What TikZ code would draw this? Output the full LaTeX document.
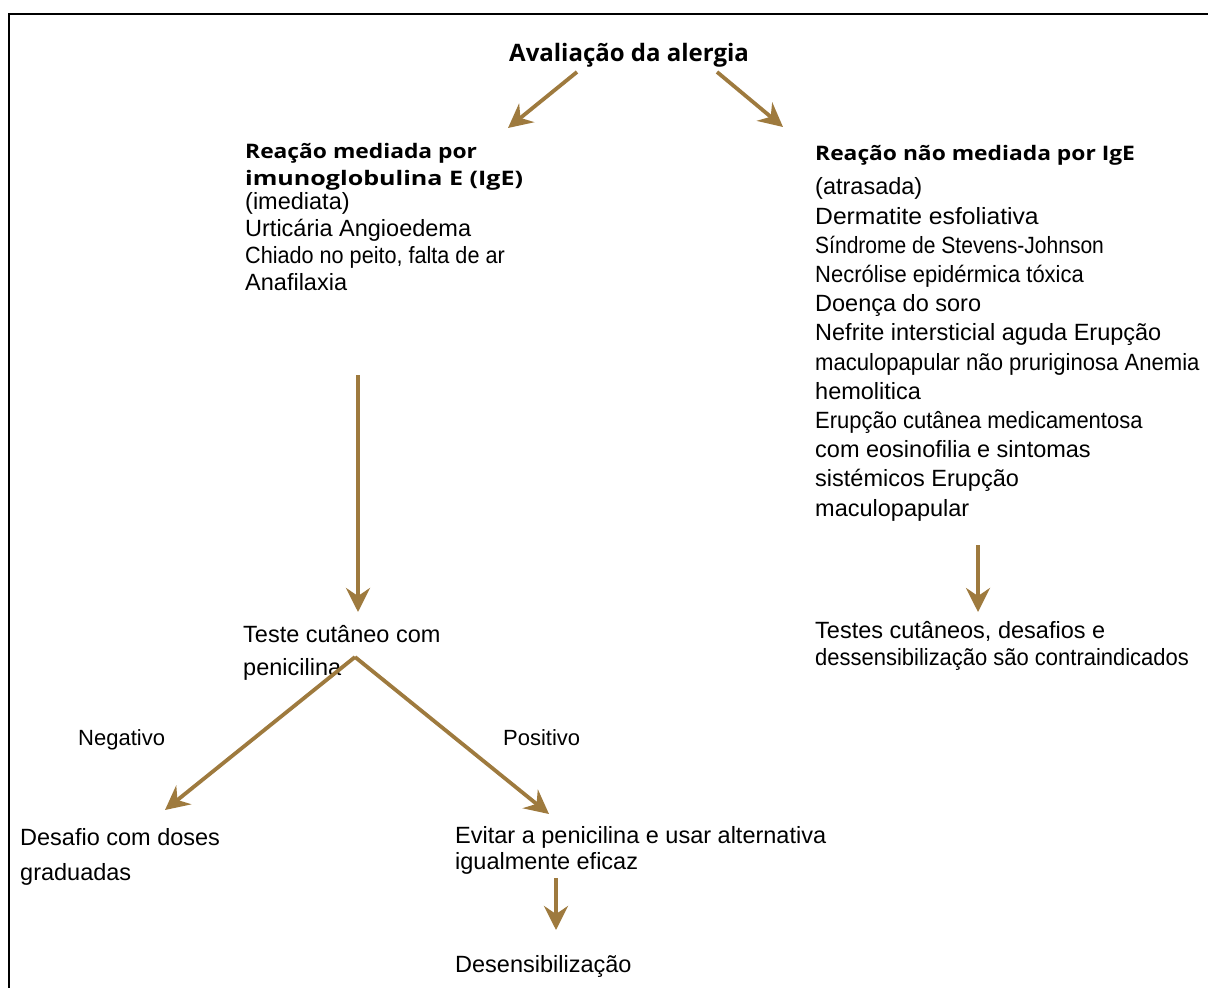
\documentclass[tikz,border=0pt]{standalone}
\usepackage{fontspec}
\setmainfont{Liberation Sans}
\newfontfamily\titlefont{Open Sans}
\newfontfamily\headfont{Open Sans}[FakeStretch=1.14]
\usepackage{xcolor}
\usepackage{graphicx}
\usetikzlibrary{positioning,arrows.meta}
\definecolor{arrowbrown}{RGB}{158,122,62}
% lines that the source sets a little wider or narrower
\newcommand{\narrowed}[2]{\scalebox{#1}[1]{#2}}

\begin{document}
\begin{tikzpicture}[
    x=1pt,y=-1pt,
    maintitle/.style={font=\titlefont\bfseries\fontsize{24}{30}\selectfont,inner sep=0,anchor=base west},
    heading/.style={font=\headfont\bfseries\fontsize{20}{27}\selectfont,align=left,inner sep=0,anchor=base west},
    txt/.style={font=\fontsize{23.5}{26.7}\selectfont,align=left,inner sep=0,anchor=base west},
    arrow/.style={draw=arrowbrown,line width=3.8pt,-{Stealth[length=24pt,width=24pt,inset=8pt]}}
]
\useasboundingbox (0,0) rectangle (1208,988);
\draw[line width=2.8pt] (9,988) -- (9,14) -- (1208,14);

% anchors sit on the last line of each text
\node[maintitle] (title) at (509,61) {Avaliação da alergia};

% IgE branch
\node[heading] (ige) at (245,185) {Reação mediada por\\\narrowed{1.1}{imunoglobulina E (IgE)}};
\node[txt] (igebody) at (245,290) {(imediata)\\Urticária Angioedema\\\narrowed{0.92}{Chiado no peito, falta de ar}\\Anafilaxia};

% non-IgE branch
\node[heading] (nonige) at (815,160) {Reação não mediada por IgE};
\node[txt,font=\fontsize{23.5}{29.2}\selectfont] (nonigebody) at (815,516) {(atrasada)\\\narrowed{1.05}{Dermatite esfoliativa}\\\narrowed{0.895}{Síndrome de Stevens-Johnson}\\\narrowed{0.935}{Necrólise epidérmica tóxica}\\Doença do soro\\Nefrite intersticial aguda Erupção\\\narrowed{0.94}{maculopapular não pruriginosa Anemia}\\hemolitica\\\narrowed{0.935}{Erupção cutânea medicamentosa}\\com eosinofilia e sintomas\\sistémicos Erupção\\maculopapular};

\node[txt,font=\fontsize{23.5}{33}\selectfont] (skintest) at (243,675) {Teste cutâneo com\\penicilina};
\node[txt,font=\fontsize{23.5}{27}\selectfont] (contra) at (815,665) {Testes cutâneos, desafios e\\\narrowed{0.935}{dessensibilização são contraindicados}};

\node[txt,font=\fontsize{22}{26}\selectfont] (negative) at (78,745) {Negativo};
\node[txt,font=\fontsize{22}{26}\selectfont] (positive) at (503,745) {Positivo};

\node[txt,font=\fontsize{23.5}{35}\selectfont] (challenge) at (20,880) {Desafio com doses\\graduadas};
\node[txt,font=\fontsize{23.5}{26}\selectfont] (avoid) at (455,869) {Evitar a penicilina e usar alternativa\\igualmente eficaz};
\node[txt] (desens) at (455,972) {Desensibilização};

% arrow ends
\coordinate (apex) at (355,657);
\coordinate (igein) at (508,128);
\coordinate (nonigein) at (783,127);
\coordinate (igeout) at (358,375);
\coordinate (nonigeout) at (978,545);
\coordinate (negin) at (165,810);
\coordinate (posin) at (549,814);
\coordinate (avoidout) at (556,878);

\draw[arrow] ([shift={(68,5)}]title.south west) -- (igein);
\draw[arrow] ([shift={(208,5)}]title.south west) -- (nonigein);
\draw[arrow] (igeout) -- (igeout |- 0,612);
\draw[arrow] (nonigeout) -- (nonigeout |- 0,612);
\draw[arrow] (apex) -- (negin);
\draw[arrow] (apex) -- (posin);
\draw[arrow] (avoidout) -- (avoidout |- 0,930);

\end{tikzpicture}
\end{document}
